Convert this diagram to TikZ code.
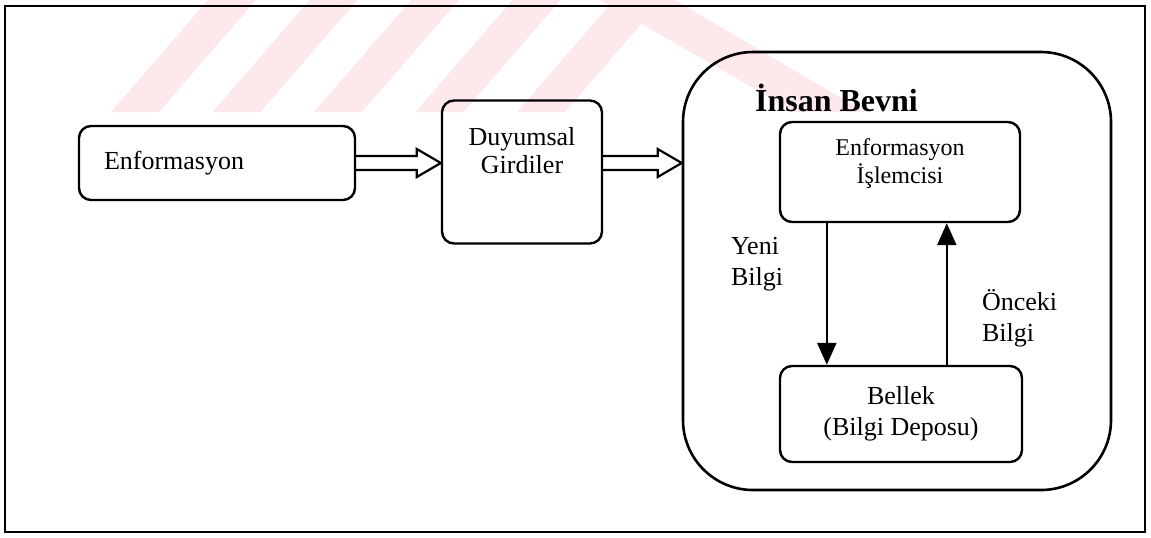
\documentclass[tikz,border=0pt]{standalone}
\usepackage{fontspec}
\setmainfont{Liberation Serif}
\usetikzlibrary{calc,arrows.meta}
\definecolor{wmpink}{RGB}{253,232,236}
\begin{document}
\begin{tikzpicture}[x=0.5pt,y=-0.5pt,
  frame/.style={draw, line width=1.3pt},
  box/.style={draw, line width=1.2pt, rounded corners=6pt, inner sep=0pt},
  bigbox/.style={draw, line width=1.3pt, rounded corners=35pt, inner sep=0pt},
  txt/.style={font=\fontsize{13}{15.5}\selectfont},
  smalltxt/.style={font=\fontsize{12}{14}\selectfont},
  titletxt/.style={font=\fontsize{16}{19}\selectfont\bfseries},
  hollow/.style={draw, line width=1.1pt, line join=miter},
  link/.style={line width=1.2pt, -{Triangle[length=11pt,width=9.5pt]}}
]
\useasboundingbox (0,0) rectangle (1151,537);

% faint striped emblem along the top edge
\begin{scope}
  \clip (0,0) rectangle (1151,112);
  \foreach \b in {111,212.5,314,415.5,517}
    \fill[wmpink] (\b,112) -- (\b+48,112) -- (\b+145,0) -- (\b+97,0) -- cycle;
  \fill[wmpink] (600,0) -- (675,0) -- (865,112) -- (795,112) -- cycle;
\end{scope}

% outer frame
\draw[frame] (5,6) rectangle (1145,532);

% source and sensory input boxes
\node[box, txt, minimum width=138pt, minimum height=37pt, text width=113pt,
      inner xsep=12.5pt, align=left] (enf) at (217,163) {Enformasyon};
\node[box, font=\fontsize{13}{14}\selectfont] (duy) at (522,172)
  {\parbox[c][71.5pt][t]{80pt}{\centering\rule{0pt}{22.5pt}Duyumsal\\Girdiler}};

% the brain
\node[bigbox, minimum width=214pt, minimum height=219pt] (brain) at (897,271) {};
\node[titletxt, anchor=base west] (title) at (748,111) {İnsan Bevni};
\node[box, smalltxt] (proc) at (900,172)
  {\parbox[c][50pt][t]{120pt}{\centering\rule{0pt}{16.5pt}Enformasyon\\İşlemcisi}};
\node[box, txt, minimum width=121pt, minimum height=48pt, align=center]
  (mem) at (901,414) {Bellek\\(Bilgi Deposu)};

% hollow flow arrows
\draw[hollow] let \p1=(enf.east), \p2=(duy.west) in
  (\x1,\y1+3.5pt) -- (\x2-12pt,\y1+3.5pt) -- (\x2-12pt,\y1+7pt) -- (\x2,\y1)
  -- (\x2-12pt,\y1-7pt) -- (\x2-12pt,\y1-3.5pt) -- (\x1,\y1-3.5pt);
\draw[hollow] let \p1=(duy.east |- enf.east), \p2=(brain.west |- enf.east) in
  (\x1,\y1+3.5pt) -- (\x2-12pt,\y1+3.5pt) -- (\x2-12pt,\y1+7pt) -- (\x2,\y1)
  -- (\x2-12pt,\y1-7pt) -- (\x2-12pt,\y1-3.5pt) -- (\x1,\y1-3.5pt);

% exchange between processor and memory
\draw[link] ($(proc.south west)+(48,0)$) -- ($(mem.north west)+(48,0)$);
\draw[link] ($(mem.north west)+(168,0)$) -- ($(proc.south west)+(168,0)$);
\node[txt, anchor=west, align=left] (yeni) at (724,264) {Yeni\\Bilgi};
\node[txt, anchor=west, align=left] (onceki) at (975,318) {Önceki\\Bilgi};
\end{tikzpicture}
\end{document}
